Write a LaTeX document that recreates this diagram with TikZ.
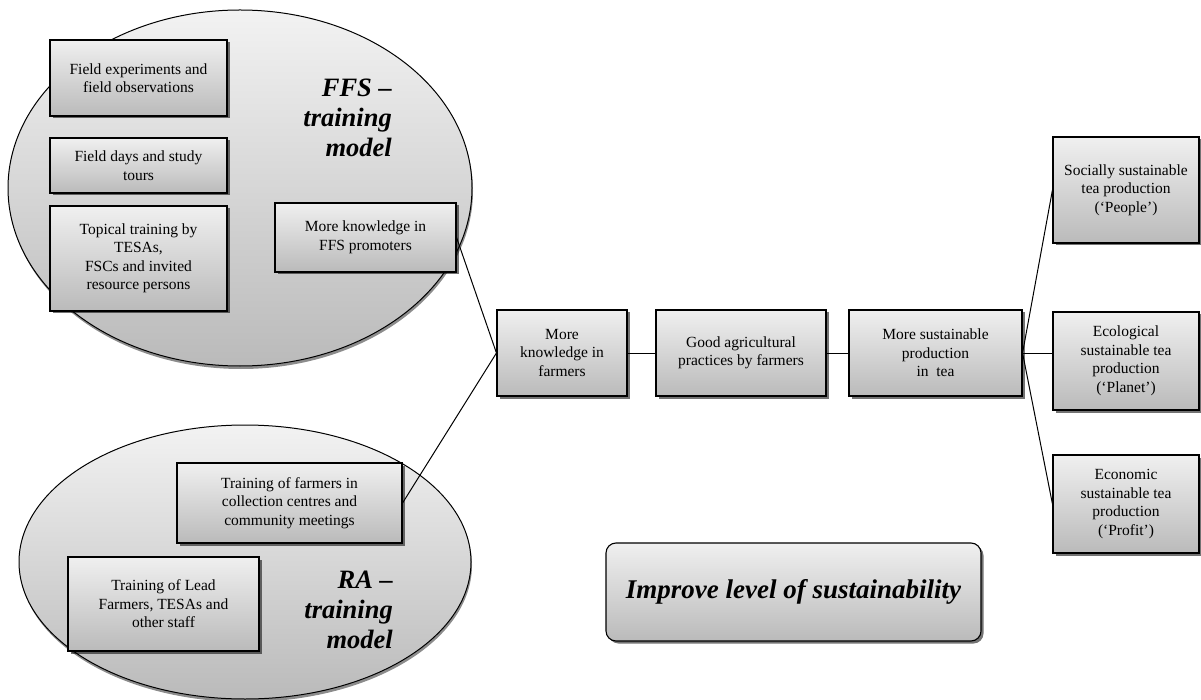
\documentclass[tikz,border=0pt]{standalone}
\usepackage{fontspec}
\setmainfont{Liberation Serif}
\usetikzlibrary{shapes.geometric,shadows}
\begin{document}
\begin{tikzpicture}[x=1pt,y=-1pt,
  box/.style={draw=black, line width=1.1pt, top color=black!6, bottom color=black!27,
    drop shadow={shadow xshift=2.5pt, shadow yshift=-2.5pt, fill=black, opacity=0.55},
    align=center, inner sep=0pt, font=\fontsize{15.5}{18.5}\selectfont},
  oval/.style={ellipse, draw=black, line width=1pt, top color=black!5, bottom color=black!27,
    inner sep=0pt, drop shadow={shadow xshift=1pt, shadow yshift=-3pt, fill=black, opacity=0.45}},
  big/.style={font=\fontsize{26.5}{30}\selectfont\bfseries\itshape, align=right, inner sep=0pt},
  link/.style={line width=1pt, draw=black}]
\useasboundingbox (0,0) rectangle (1201,700);
% ellipses
\node[oval, minimum width=464pt, minimum height=356pt] (ffs) at (240,188) {};
\node[oval, minimum width=452pt, minimum height=274pt] (ra) at (245,562) {};
% model labels
\node[big, anchor=north east] (ffslabel) at (392,79) {FFS –\\training\\model};
\node[big, anchor=north east] (ralabel) at (393,571) {RA –\\training\\model};
% FFS boxes
\node[box, minimum width=177pt, minimum height=76pt] (b1) at (138.5,78) {Field experiments and\\field observations};
\node[box, minimum width=177pt, minimum height=55pt] (b2) at (138.5,165.5) {Field days and study\\tours};
\node[box, minimum width=177pt, minimum height=105pt] (b3) at (138.5,258.5) {Topical training by\\TESAs,\\FSCs and invited\\resource persons};
\node[box, minimum width=181pt, minimum height=69pt] (b4) at (365.5,237.5) {More knowledge in\\FFS promoters};
% RA boxes
\node[box, minimum width=225pt, minimum height=80pt] (b5) at (289.5,503) {Training of farmers in\\collection centres and\\community meetings};
\node[box, minimum width=191pt, minimum height=94pt] (b6) at (163.5,604) {Training of Lead\\Farmers, TESAs and\\other staff};
% middle chain
\node[box, minimum width=130pt, minimum height=86pt] (m1) at (562,353) {More\\knowledge in\\farmers};
\node[box, minimum width=170pt, minimum height=86pt] (m2) at (741,353) {Good agricultural\\practices by farmers};
\node[box, minimum width=173pt, minimum height=86pt] (m3) at (935.5,353) {More sustainable\\production\\in\ \ tea};
% right boxes
\node[box, minimum width=146pt, minimum height=106pt] (r1) at (1126,190) {Socially sustainable\\tea production\\(‘People’)};
\node[box, minimum width=146pt, minimum height=98pt] (r2) at (1126,361) {Ecological\\sustainable tea\\production\\(‘Planet’)};
\node[box, minimum width=146pt, minimum height=98pt] (r3) at (1126,504) {Economic\\sustainable tea\\production\\(‘Profit’)};
% improve box
\node[box, rounded corners=10pt, minimum width=375pt, minimum height=98pt,
  font=\fontsize{27}{30}\selectfont\bfseries\itshape] (imp) at (793.5,592) {Improve level of sustainability};
% connectors
\draw[link] (b4.east) -- (m1.west);
\draw[link] (b5.east) -- (m1.west);
\draw[link] (m1.east) -- (m2.west);
\draw[link] (m2.east) -- (m3.west);
\draw[link] (m3.east) -- (r1.west);
\draw[link] (m3.east) -- (m3.east -| r2.west);
\draw[link] (m3.east) -- (r3.west);
\end{tikzpicture}
\end{document}
